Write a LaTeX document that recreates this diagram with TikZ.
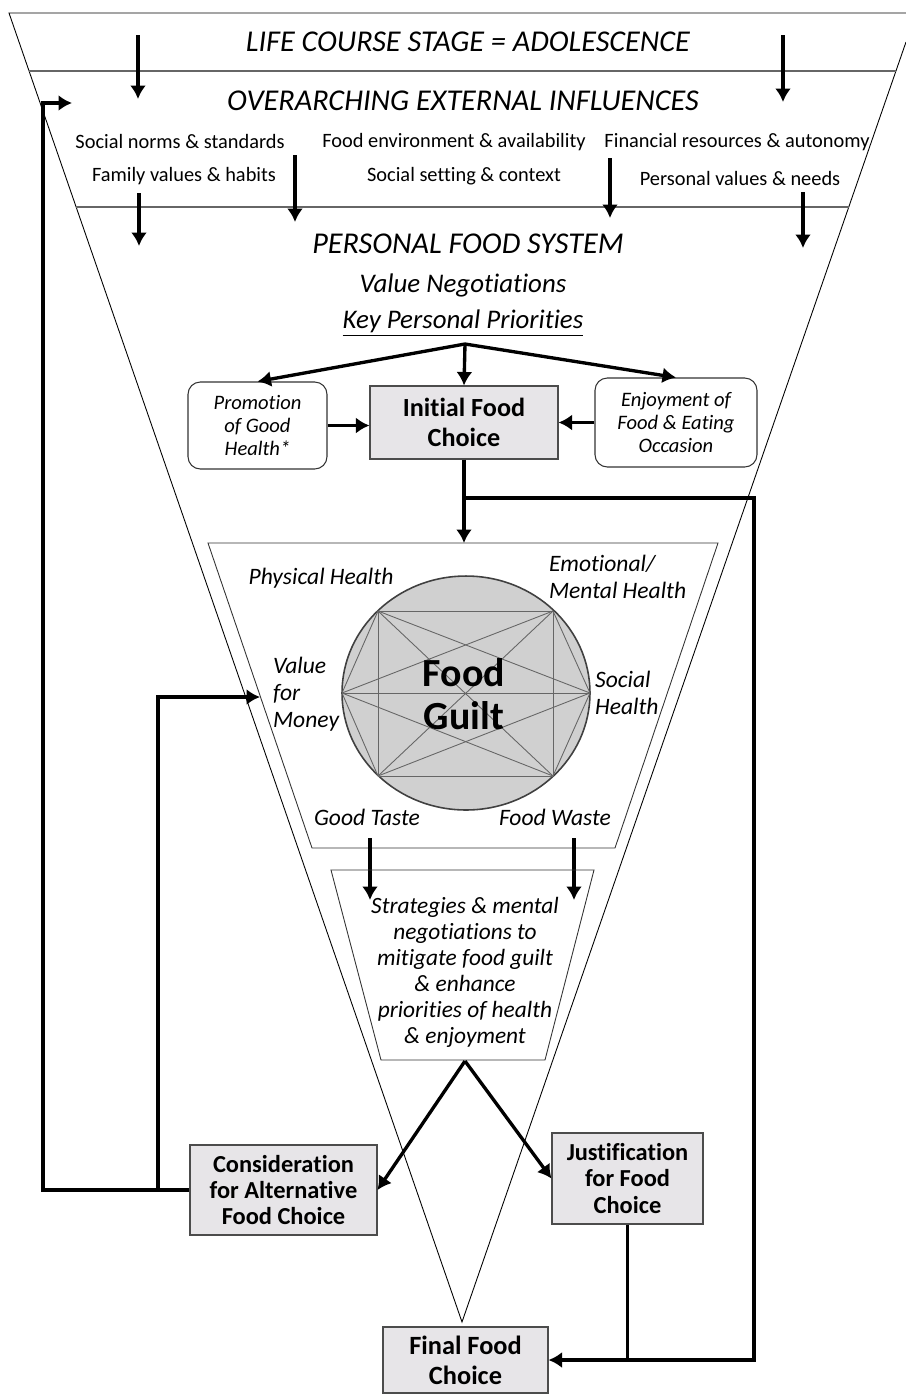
\documentclass[tikz,border=0pt]{standalone}
\usepackage{fontspec}
\setmainfont{Carlito}[Ligatures=NoCommon]
\usetikzlibrary{shapes,arrows.meta,positioning,calc}

\definecolor{boxgray}{RGB}{231,229,232}
\definecolor{guiltgray}{RGB}{208,208,208}

\begin{document}
\begin{tikzpicture}[
    x=0.02cm, y=-0.02cm,
    >={Latex[length=2.7mm, width=3.2mm]},
    flow/.style={->, line width=1.9pt},
    link/.style={line width=1.9pt},
    funnel/.style={draw=black, line width=0.5pt},
    band/.style={draw=black!60, line width=0.9pt},
    heading/.style={font=\fontsize{17.2}{20}\selectfont\itshape},
    subheading/.style={font=\fontsize{15.3}{18}\selectfont\itshape},
    influence/.style={font=\fontsize{11.6}{14}\selectfont},
    choice/.style={rectangle, draw=black!70, fill=boxgray, line width=0.6pt, align=center, font=\fontsize{13.9}{15}\selectfont\bfseries, inner sep=2pt},
    priority/.style={rectangle, draw=black!80, rounded corners=7pt, line width=0.6pt, align=center, font=\fontsize{11.7}{13}\selectfont\itshape},
    guilt/.style={font=\fontsize{13.4}{15.4}\selectfont\itshape, align=left, inner sep=1pt}
]

\useasboundingbox (0,0) rectangle (906,1394);

% Funnel outline and bands
\draw[funnel] (906,13) -- (9,13) -- (462,1322) -- (906,42);
\draw[band] (29,71) -- (896,71);
\draw[band] (76,207) -- (849,207);

% Life course and external influences
\node[heading] (life-title) at (468,42) {LIFE COURSE STAGE = ADOLESCENCE};
\node[heading] (ext-title) at (463,101) {OVERARCHING EXTERNAL INFLUENCES};

\node[influence] (social-norms) at (180,141) {Social norms \& standards};
\node[influence] (food-env) at (454,142) {Food environment \& availability};
\node[influence] (financial) at (737,142) {Financial resources \& autonomy};
\node[influence] (family-values) at (184,176) {Family values \& habits};
\node[influence] (social-setting) at (464,176) {Social setting \& context};
\node[influence] (personal-values) at (740,178) {Personal values \& needs};

% Downward arrows through the bands
\foreach \x/\ya/\yb [count=\i] in {138/35/99, 783/35/102, 139/193/246, 295/155/222, 610/158/218, 803/192/248} {
    \coordinate (drop\i-top) at (\x,\ya);
    \coordinate (drop\i-end) at (\x,\yb);
    \draw[flow] (drop\i-top) -- (drop\i-end);
}

% Personal food system
\node[heading] (pfs-title) at (468,244) {PERSONAL FOOD SYSTEM};
\node[subheading] (value-neg) at (463,285) {Value Negotiations};
\node[subheading] (key-prio) at (463,323) {\underline{Key Personal Priorities}};

\node[choice, minimum width=3.76cm, minimum height=1.46cm, font=\fontsize{14.9}{17.5}\selectfont\bfseries] (initial-choice) at (464,422.5) {Initial Food\\Choice};
\node[priority, minimum width=2.78cm, minimum height=1.74cm] (health-prio) at (257.5,425.5) {Promotion\\of Good\\Health*};
\node[priority, minimum width=3.24cm, minimum height=1.78cm] (enjoy-prio) at (676,422.5) {Enjoyment of\\Food \& Eating\\Occasion};

\coordinate (prio-split) at (465,344);
\draw[flow] (prio-split) -- (health-prio.north);
\draw[flow] (prio-split) -- (initial-choice.north);
\draw[flow] (prio-split) -- (enjoy-prio.north);
\draw[flow] (health-prio.east) -- (health-prio.east -| initial-choice.west);
\draw[flow] (enjoy-prio.west) -- (enjoy-prio.west -| initial-choice.east);

% Food guilt panel
\draw[funnel, draw=black!80] (208,543) -- (718,543) -- (615,848) -- (312,848) -- cycle;
\coordinate (guilt-top) at (464,543);
\draw[flow] (initial-choice.south) -- (guilt-top);

\draw[draw=black!75, fill=guiltgray, line width=0.9pt] (466,693) ellipse [x radius=2.48cm, y radius=2.34cm];
\foreach \n/\x/\y in {1/342/693, 2/378/611, 3/553/611, 4/590/693, 5/553/776, 6/378/776}
    \coordinate (g\n) at (\x,\y);
\foreach \i in {1,...,5} {
    \pgfmathtruncatemacro\nxt{\i+1}
    \foreach \j in {\nxt,...,6}
        \draw[black!60, line width=0.5pt] (g\i) -- (g\j);
}
\node[font=\fontsize{22.7}{24.5}\selectfont\bfseries, align=center] (guilt-label) at (464,694) {Food\\Guilt};

\node[guilt] (physical) at (321,578) {Physical Health};
\node[guilt, anchor=west] (emotional) at (547,576.5) {Emotional/\\Mental Health};
\node[guilt, anchor=west] (value-money) at (271,694) {Value\\for\\Money};
\node[guilt, anchor=west] (social-health) at (593,692.5) {Social\\Health};
\node[guilt] (good-taste) at (367,817) {Good Taste};
\node[guilt] (food-waste) at (555,817) {Food Waste};

\coordinate (taste-drop) at (370,838);
\coordinate (taste-end) at (370,900);
\coordinate (waste-drop) at (574,838);
\coordinate (waste-end) at (574,900);
\draw[flow] (taste-drop) -- (taste-end);
\draw[flow] (waste-drop) -- (waste-end);

% Strategies panel
\draw[funnel, draw=black!80] (331,870) -- (594,870) -- (545,1060) -- (381,1060) -- cycle;
\node[guilt, align=center, font=\fontsize{13.3}{14.8}\selectfont\itshape] (strategies) at (465,972) {Strategies \& mental\\negotiations to\\mitigate food guilt\\\& enhance\\priorities of health\\\& enjoyment};

% Outcomes
\node[choice, minimum width=3.74cm, minimum height=1.8cm] (alt-choice) at (283.5,1190) {Consideration\\for Alternative\\Food Choice};
\node[choice, minimum width=3.02cm, minimum height=1.82cm] (just-choice) at (627.5,1178.5) {Justification\\for Food\\Choice};
\node[choice, minimum width=3.3cm, minimum height=1.32cm, font=\fontsize{15}{17}\selectfont\bfseries] (final-choice) at (465.5,1360) {Final Food\\Choice};

\coordinate (strat-tip) at (465,1061);
\draw[flow] (strat-tip) -- (alt-choice.east);
\draw[flow] (strat-tip) -- (just-choice.west);

% Feedback loops
\coordinate (loop-top) at (43,103);
\coordinate (loop-end) at (72,103);
\draw[flow] (alt-choice.west) -| (loop-top) -- (loop-end);
\coordinate (inner-turn) at (158,697);
\coordinate (inner-end) at (260,697);
\draw[flow] (inner-turn |- alt-choice.west) -- (inner-turn) -- (inner-end);

\coordinate (choice-branch) at (464,498);
\coordinate (rail-bottom) at (754,1360);
\draw[flow] (choice-branch) -| (rail-bottom) -- (final-choice.east);
\draw[link] (just-choice.south) -- (just-choice.south |- final-choice.east);

\end{tikzpicture}
\end{document}
